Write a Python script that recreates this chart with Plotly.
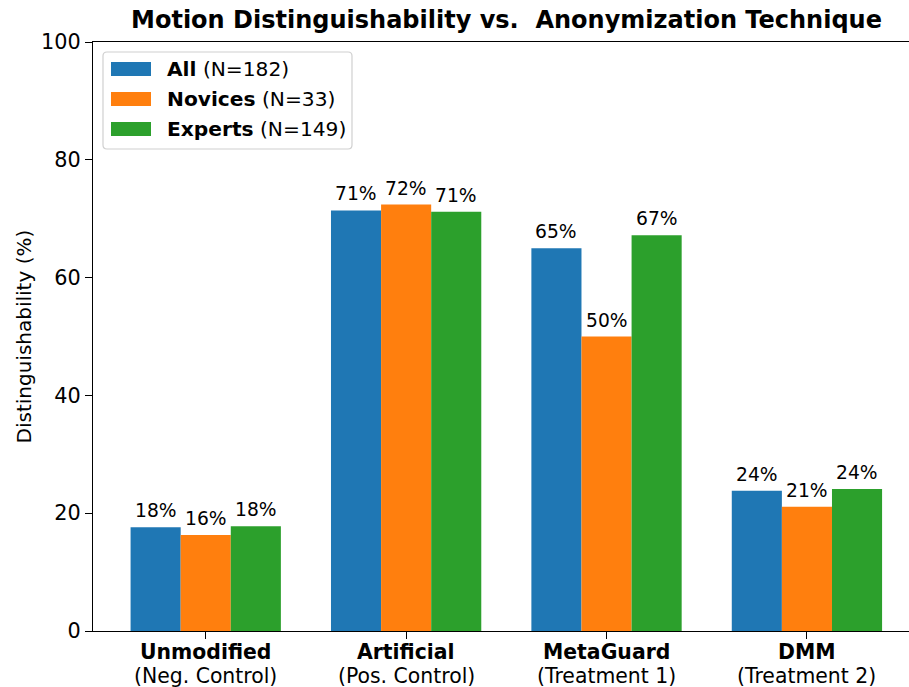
import plotly.graph_objects as go

# Anonymization techniques (x categories) and their second-line descriptions
techniques = ["Unmodified", "Artificial", "MetaGuard", "DMM"]
descriptions = ["(Neg. Control)", "(Pos. Control)", "(Treatment 1)", "(Treatment 2)"]

# Distinguishability (%) per participant group
all_vals = [17.6, 71.4, 65.0, 23.8]
novice_vals = [16.3, 72.4, 50.0, 21.1]
expert_vals = [17.8, 71.2, 67.2, 24.1]

group_names = ["All", "Novices", "Experts"]
group_counts = [182, 33, 149]
group_colors = ["#1f77b4", "#ff7f0e", "#2ca02c"]
series = [all_vals, novice_vals, expert_vals]

y_ticks = [0, 20, 40, 60, 80, 100]

FONT = "DejaVu Sans"
W, H = 909, 687
# plot-area geometry in pixels
L, R, T, B = 93, 0, 42, 56
PW, PH = W - L - R, H - T - B

BAR_W = 0.25
offsets = [-BAR_W, 0.0, BAR_W]
xpos = list(range(len(techniques)))

fig = go.Figure()
for name, vals, color in zip(group_names, series, group_colors):
    fig.add_trace(go.Bar(
        x=xpos, y=vals, name=name, marker_color=color,
        marker_line_width=0, showlegend=False,
    ))

# value labels above each bar
annotations = []
for vals, off in zip(series, offsets):
    for i, v in enumerate(vals):
        annotations.append(dict(
            x=i + off, y=v, xref="x", yref="y", text=f"{round(v)}%",
            showarrow=False, yanchor="bottom", xanchor="center", yshift=4,
            font=dict(family=FONT, size=18.7, color="black"),
        ))

# two-line category labels under the x ticks
for i, (t, d) in enumerate(zip(techniques, descriptions)):
    annotations.append(dict(
        x=i, y=0, xref="x", yref="paper", text=f"<b>{t}</b>",
        showarrow=False, xanchor="center", yanchor="middle", yshift=-21,
        font=dict(family=FONT, size=20.4, color="black"),
    ))
    annotations.append(dict(
        x=i, y=0, xref="x", yref="paper", text=d,
        showarrow=False, xanchor="center", yanchor="middle", yshift=-45,
        font=dict(family=FONT, size=20.4, color="black"),
    ))

# y-axis title
annotations.append(dict(
    x=0, y=0.5, xref="paper", yref="paper", xshift=-70,
    text="Distinguishability (%)", textangle=-90, showarrow=False,
    xanchor="center", yanchor="middle",
    font=dict(family=FONT, size=20, color="black"),
))


def px_x(px):
    return (px - L) / PW


def px_y(py):
    return (H - B - py) / PH


# legend frame with rounded corners
shapes = []
x0, x1, y0, y1, rad = 103, 352, 52, 149, 4
pts = [
    ("M", x0 + rad, y0), ("L", x1 - rad, y0), ("Q", x1, y0, x1, y0 + rad),
    ("L", x1, y1 - rad), ("Q", x1, y1, x1 - rad, y1), ("L", x0 + rad, y1),
    ("Q", x0, y1, x0, y1 - rad), ("L", x0, y0 + rad), ("Q", x0, y0, x0 + rad, y0),
]
path = ""
for p in pts:
    cmd = p[0]
    coords = p[1:]
    seg = []
    for k in range(0, len(coords), 2):
        seg.append(f"{px_x(coords[k]):.5f},{px_y(coords[k + 1]):.5f}")
    path += cmd + " ".join(seg) + " "
path += "Z"
shapes.append(dict(type="path", path=path, xref="paper", yref="paper",
                   line=dict(color="#d0d0d0", width=1.2),
                   fillcolor="rgba(255,255,255,0.8)", layer="above"))

for k, (name, n, color) in enumerate(zip(group_names, group_counts, group_colors)):
    cy = 69 + 30 * k
    shapes.append(dict(type="rect", xref="paper", yref="paper",
                       x0=px_x(111), x1=px_x(151), y0=px_y(cy + 7), y1=px_y(cy - 7),
                       fillcolor=color, line=dict(width=0), layer="above"))
    annotations.append(dict(
        x=px_x(165), y=px_y(cy), xref="paper", yref="paper",
        text=f"<b>{name}</b> (N={n})", showarrow=False,
        xanchor="left", yanchor="middle",
        font=dict(family=FONT, size=20.2, color="black"),
    ))

fig.update_layout(
    width=W, height=H,
    margin=dict(l=L, r=R, t=T, b=B),
    paper_bgcolor="white", plot_bgcolor="white",
    barmode="group", bargap=0.25, bargroupgap=0,
    title=dict(
        text="<b>Motion Distinguishability vs.  Anonymization Technique</b>",
        x=506.5 / W, xref="container", xanchor="center",
        y=1 - 20 / H, yref="container", yanchor="middle",
        font=dict(family=FONT, size=24, color="black"),
    ),
    xaxis=dict(
        range=[-0.5625, -0.5625 + PW / 200.4],
        tickvals=xpos, showticklabels=False, automargin=False,
        showgrid=False, zeroline=False,
        showline=True, linecolor="black", linewidth=1.3, mirror=True,
        ticks="outside", ticklen=7, tickwidth=1.3, tickcolor="black",
    ),
    yaxis=dict(
        range=[0, 100], tickvals=y_ticks, automargin=False,
        showgrid=False, zeroline=False,
        showline=True, linecolor="black", linewidth=1.3,
        ticks="outside", ticklen=7, tickwidth=1.3, tickcolor="black",
        tickfont=dict(family=FONT, size=20.8, color="black"),
    ),
    annotations=annotations,
    shapes=shapes,
    font=dict(family=FONT),
)

fig.write_html("out.html")
